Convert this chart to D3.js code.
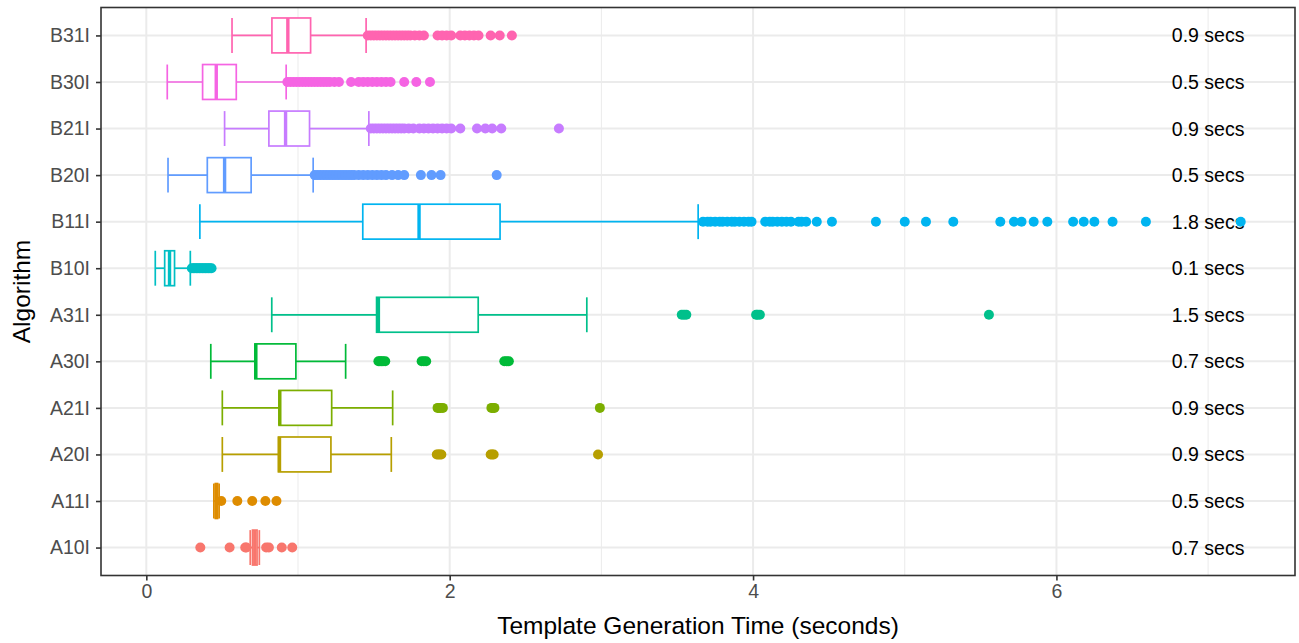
<!DOCTYPE html>
<html lang="en">
<head>
    <meta charset="UTF-8">
    <title>Template Generation Time</title>
    <style>
        body { margin: 0; background: #fff; }
        text { font-family: "Liberation Sans", Arial, Helvetica, sans-serif; }
        .tick-label { fill: #4d4d4d; font-size: 19.5px; }
        .axis-title { fill: #000; font-size: 24.5px; }
        .secs { fill: #000; font-size: 19.5px; }
    </style>
</head>
<body>
    <div id="chart"></div>

    <script src="https://d3js.org/d3.v7.min.js"></script>
    <script>
        const width = 1299;
        const height = 643;
        const margin = {top: 7.5, right: 4, bottom: 67.5, left: 101};

        // boxplot stats, one entry per algorithm
        const algorithms = ["A10I", "A11I", "A20I", "A21I", "A30I", "A31I", "B10I", "B11I", "B20I", "B21I", "B30I", "B31I"];
        const whiskerLow  = [0.685, 0.445, 0.501, 0.501, 0.425, 0.827, 0.059, 0.353, 0.143, 0.516, 0.138, 0.565];
        const q1          = [0.700, 0.455, 0.871, 0.875, 0.716, 1.518, 0.121, 1.427, 0.402, 0.808, 0.371, 0.828];
        const median      = [0.715, 0.462, 0.878, 0.880, 0.722, 1.530, 0.153, 1.798, 0.516, 0.918, 0.461, 0.933];
        const q3          = [0.730, 0.470, 1.217, 1.222, 0.986, 2.188, 0.186, 2.332, 0.691, 1.076, 0.593, 1.083];
        const whiskerHigh = [0.745, 0.480, 1.615, 1.624, 1.314, 2.904, 0.290, 3.638, 1.100, 1.467, 0.922, 1.449];
        const outliers = [
            [0.356, 0.549, 0.652, 0.66, 0.79, 0.808, 0.893, 0.962],
            [0.494, 0.600, 0.698, 0.785, 0.858],
            [1.915, 1.925, 1.935, 1.945, 2.27, 2.28, 2.29, 2.978],
            [1.92, 1.93, 1.94, 1.955, 2.275, 2.285, 2.295, 2.99],
            [1.53, 1.54, 1.55, 1.56, 1.575, 1.815, 1.83, 1.845, 2.36, 2.375, 2.39],
            [3.53, 3.545, 3.56, 4.02, 4.03, 4.045, 5.555],
            [0.30, 0.31, 0.32, 0.33, 0.34, 0.35, 0.36, 0.37, 0.38, 0.39, 0.40, 0.41, 0.42, 0.43],
            [3.67, 3.70, 3.72, 3.75, 3.78, 3.80, 3.83, 3.86, 3.88, 3.91, 3.94, 3.97, 3.99,
             4.08, 4.11, 4.13, 4.16, 4.19, 4.22, 4.25, 4.30, 4.32, 4.35, 4.42, 4.52,
             4.81, 5.00, 5.14, 5.32, 5.63, 5.72, 5.77, 5.85, 5.94, 6.11, 6.18, 6.25, 6.37, 6.59, 7.215],
            [1.11, 1.13, 1.15, 1.17, 1.19, 1.21, 1.23, 1.25, 1.27, 1.29, 1.31, 1.33, 1.35, 1.37,
             1.40, 1.43, 1.46, 1.49, 1.52, 1.55, 1.58, 1.62, 1.66, 1.70, 1.81, 1.88, 1.94, 2.31],
            [1.48, 1.50, 1.52, 1.54, 1.56, 1.58, 1.60, 1.62, 1.64, 1.66, 1.68, 1.70, 1.73, 1.76,
             1.80, 1.83, 1.86, 1.89, 1.92, 1.95, 1.98, 2.01, 2.07, 2.18, 2.235, 2.28, 2.34, 2.72],
            [0.93, 0.95, 0.97, 0.99, 1.01, 1.03, 1.05, 1.07, 1.09, 1.11, 1.13, 1.15, 1.17, 1.19,
             1.21, 1.24, 1.27, 1.35, 1.40, 1.43, 1.46, 1.49, 1.52, 1.55, 1.58, 1.61, 1.70, 1.78, 1.87],
            [1.46, 1.48, 1.50, 1.52, 1.54, 1.56, 1.58, 1.60, 1.62, 1.64, 1.66, 1.68, 1.70, 1.72,
             1.74, 1.77, 1.80, 1.83, 1.92, 1.95, 1.98, 2.01, 2.07, 2.10, 2.13, 2.16, 2.19, 2.27, 2.33, 2.41]
        ];
        const secsLabels = ["0.7 secs", "0.5 secs", "0.9 secs", "0.9 secs", "0.7 secs", "1.5 secs",
                            "0.1 secs", "1.8 secs", "0.5 secs", "0.9 secs", "0.5 secs", "0.9 secs"];
        const labelX = 7;
        const xTicks = [0, 2, 4, 6];
        const xMinor = [1, 3, 5, 7];
        const colors = ["#F8766D", "#DE8C00", "#B79F00", "#7CAE00", "#00BA38", "#00C08B",
                        "#00BFC4", "#00B4F0", "#619CFF", "#C77CFF", "#F564E3", "#FF64B0"];

        const rows = algorithms.map((a, i) => ({
            name: a, low: whiskerLow[i], q1: q1[i], med: median[i], q3: q3[i], high: whiskerHigh[i],
            out: outliers[i], label: secsLabels[i], color: colors[i]
        }));

        const allVals = rows.flatMap(d => [d.low, d.high, ...d.out]);
        const [lo, hi] = d3.extent(allVals);
        const pad = (hi - lo) * 0.05;

        const x = d3.scaleLinear()
            .domain([lo - pad, hi + pad])
            .range([margin.left, width - margin.right]);

        const y = d3.scalePoint()
            .domain(algorithms.slice().reverse())
            .range([margin.top, height - margin.bottom])
            .padding(0.6);

        const boxH = y.step() * 0.75;

        const svg = d3.select("#chart")
            .append("svg")
            .attr("width", width)
            .attr("height", height);

        // grid
        const grid = svg.append("g");
        grid.selectAll(".minor")
            .data(xMinor)
            .enter().append("line")
            .attr("x1", d => x(d)).attr("x2", d => x(d))
            .attr("y1", margin.top).attr("y2", height - margin.bottom)
            .attr("stroke", "#ebebeb").attr("stroke-width", 1);
        grid.selectAll(".major-x")
            .data(xTicks)
            .enter().append("line")
            .attr("x1", d => x(d)).attr("x2", d => x(d))
            .attr("y1", margin.top).attr("y2", height - margin.bottom)
            .attr("stroke", "#ebebeb").attr("stroke-width", 2);
        grid.selectAll(".major-y")
            .data(algorithms)
            .enter().append("line")
            .attr("x1", margin.left).attr("x2", width - margin.right)
            .attr("y1", d => y(d)).attr("y2", d => y(d))
            .attr("stroke", "#ebebeb").attr("stroke-width", 2);

        // "x secs" labels, under the points
        svg.selectAll(".secs")
            .data(rows)
            .enter().append("text")
            .attr("class", "secs")
            .attr("x", x(labelX))
            .attr("y", d => y(d.name))
            .attr("dy", "0.36em")
            .attr("text-anchor", "middle")
            .text(d => d.label);

        const groups = svg.selectAll(".box")
            .data(rows)
            .enter().append("g")
            .attr("transform", d => `translate(0,${y(d.name)})`);

        // whiskers with caps
        groups.append("line")
            .attr("x1", d => x(d.low)).attr("x2", d => x(d.q1))
            .attr("stroke", d => d.color).attr("stroke-width", 1.7);
        groups.append("line")
            .attr("x1", d => x(d.q3)).attr("x2", d => x(d.high))
            .attr("stroke", d => d.color).attr("stroke-width", 1.7);
        groups.append("line")
            .attr("x1", d => x(d.low)).attr("x2", d => x(d.low))
            .attr("y1", -boxH / 2).attr("y2", boxH / 2)
            .attr("stroke", d => d.color).attr("stroke-width", 1.7);
        groups.append("line")
            .attr("x1", d => x(d.high)).attr("x2", d => x(d.high))
            .attr("y1", -boxH / 2).attr("y2", boxH / 2)
            .attr("stroke", d => d.color).attr("stroke-width", 1.7);

        // box + median
        groups.append("rect")
            .attr("x", d => x(d.q1))
            .attr("width", d => x(d.q3) - x(d.q1))
            .attr("y", -boxH / 2)
            .attr("height", boxH)
            .attr("fill", "#fff")
            .attr("stroke", d => d.color).attr("stroke-width", 1.7);
        groups.append("line")
            .attr("x1", d => x(d.med)).attr("x2", d => x(d.med))
            .attr("y1", -boxH / 2).attr("y2", boxH / 2)
            .attr("stroke", d => d.color).attr("stroke-width", 3.4);

        // outliers
        groups.selectAll("circle")
            .data(d => d.out.map(v => ({v, color: d.color})))
            .enter().append("circle")
            .attr("cx", d => x(d.v))
            .attr("cy", 0)
            .attr("r", 5)
            .attr("fill", d => d.color);

        // panel border
        svg.append("rect")
            .attr("x", margin.left).attr("y", margin.top)
            .attr("width", width - margin.left - margin.right)
            .attr("height", height - margin.top - margin.bottom)
            .attr("fill", "none")
            .attr("stroke", "#333").attr("stroke-width", 1.6);

        // axes
        const xAxis = svg.append("g")
            .attr("transform", `translate(0,${height - margin.bottom})`)
            .call(d3.axisBottom(x).tickValues(xTicks).tickFormat(d3.format("d")).tickSize(5).tickPadding(4));
        const yAxis = svg.append("g")
            .attr("transform", `translate(${margin.left},0)`)
            .call(d3.axisLeft(y).tickSize(5).tickPadding(6));

        [xAxis, yAxis].forEach(ax => {
            ax.select(".domain").remove();
            ax.selectAll(".tick line").attr("stroke", "#333").attr("stroke-width", 1.6);
            ax.selectAll(".tick text").attr("class", "tick-label").attr("fill", null).attr("font-family", null).attr("font-size", null);
        });

        svg.append("text")
            .attr("class", "axis-title")
            .attr("x", (margin.left + width - margin.right) / 2)
            .attr("y", 634)
            .attr("text-anchor", "middle")
            .text("Template Generation Time (seconds)");

        svg.append("text")
            .attr("class", "axis-title")
            .attr("transform", `translate(30,${(margin.top + height - margin.bottom) / 2}) rotate(-90)`)
            .attr("text-anchor", "middle")
            .text("Algorithm");
    </script>
</body>
</html>
